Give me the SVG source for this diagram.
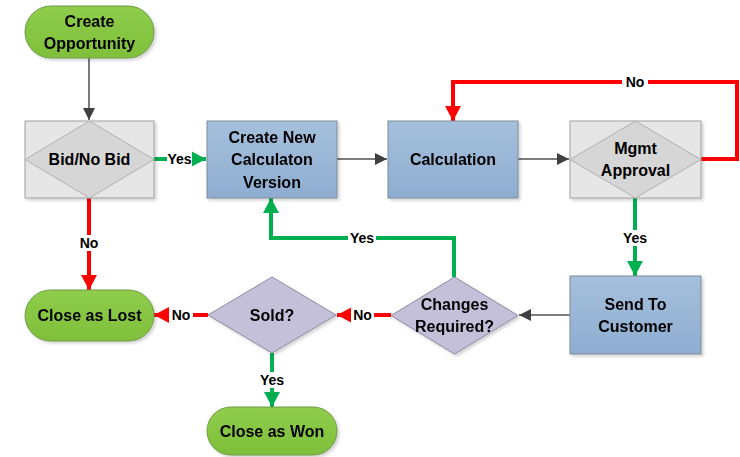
<svg xmlns="http://www.w3.org/2000/svg" width="740" height="457" viewBox="0 0 740 457">
<defs>
<linearGradient id="gGreen" x1="0" y1="0" x2="0" y2="1"><stop offset="0" stop-color="#8fcd4c"/><stop offset="1" stop-color="#7fbf3a"/></linearGradient>
<linearGradient id="gBlue" x1="0" y1="0" x2="0" y2="1"><stop offset="0" stop-color="#a5c0dc"/><stop offset="1" stop-color="#8eadd1"/></linearGradient>
<filter id="sh" x="-10%" y="-10%" width="130%" height="130%"><feDropShadow dx="2" dy="2" stdDeviation="1.5" flood-color="#000" flood-opacity="0.18"/></filter>
<marker id="aGray" markerWidth="12" markerHeight="12" refX="12" refY="6" orient="auto" markerUnits="userSpaceOnUse"><path d="M0,0 L12,6 L0,12 Z" fill="#404040"/></marker>
<marker id="aGreen" markerWidth="15" markerHeight="16" refX="15" refY="8" orient="auto" markerUnits="userSpaceOnUse"><path d="M0,0 L15,8 L0,16 Z" fill="#00b050"/></marker>
<marker id="aRed" markerWidth="15" markerHeight="16" refX="15" refY="8" orient="auto" markerUnits="userSpaceOnUse"><path d="M0,0 L15,8 L0,16 Z" fill="#ff0000"/></marker>
</defs>
<style>
text{font-family:"Liberation Sans",Arial,sans-serif;font-weight:bold;fill:#000;text-anchor:middle;dominant-baseline:central}
.t{font-size:16px}
.l{font-size:14px}
.pill{fill:url(#gGreen);stroke:#6e9a46;stroke-width:1}
.box{fill:url(#gBlue);stroke:#7f8c99;stroke-width:1}
.gbox{fill:#e6e6e6;stroke:#a0a0a0;stroke-width:1}
.gdia{fill:#d6d6d6;stroke:#b0b0b0;stroke-width:1}
.pdia{fill:#c5c0d9;stroke:#8c8aa0;stroke-width:1}
.gray{fill:none;stroke:#505050;stroke-width:1.5;marker-end:url(#aGray)}
.green{fill:none;stroke:#00b050;stroke-width:4}
.red{fill:none;stroke:#ff0000;stroke-width:4}
.lbg{fill:#fff}
</style>
<g id="connectors">
<path class="gray" d="M89,58 V120"/>
<path class="gray" d="M337,159 H387"/>
<path class="gray" d="M518,159 H569"/>
<path class="gray" d="M570,315 H519"/>
<path class="green" d="M154,159 H167"/>
<path class="green" d="M192,159 H206" marker-end="url(#aGreen)"/>
<path class="red" d="M701,159 H737 V82 H453 V121" marker-end="url(#aRed)"/>
<path class="red" d="M89,198 V290" marker-end="url(#aRed)"/>
<path class="green" d="M635,198 V276" marker-end="url(#aGreen)"/>
<path class="green" d="M454,277 V238 H271 V198" marker-end="url(#aGreen)"/>
<path class="red" d="M391,315 H374"/>
<path class="red" d="M351,315 H337" marker-end="url(#aRed)"/>
<path class="red" d="M208,315 H193"/>
<path class="red" d="M169,315 H154" marker-end="url(#aRed)"/>
<path class="green" d="M272,353 V407" marker-end="url(#aGreen)"/>
<rect class="lbg" x="167" y="151" width="25" height="16"/>
<text class="l" x="179.5" y="159">Yes</text>
<rect class="lbg" x="622" y="74" width="26" height="16"/>
<text class="l" x="635" y="82">No</text>
<rect class="lbg" x="77" y="235" width="24" height="16"/>
<text class="l" x="89" y="243">No</text>
<rect class="lbg" x="621" y="230" width="28" height="16"/>
<text class="l" x="635" y="238">Yes</text>
<rect class="lbg" x="348" y="230" width="28" height="16"/>
<text class="l" x="362" y="238">Yes</text>
<rect class="lbg" x="351" y="307" width="23" height="16"/>
<text class="l" x="362.5" y="315">No</text>
<rect class="lbg" x="169" y="307" width="24" height="16"/>
<text class="l" x="181" y="315">No</text>
<rect class="lbg" x="258" y="372" width="28" height="16"/>
<text class="l" x="272" y="380">Yes</text>
</g>
<g id="create-opportunity" filter="url(#sh)">
<rect class="pill" x="25" y="6" width="129" height="52" rx="26"/>
<text class="t" x="89.5" y="21">Create</text>
<text class="t" x="89.5" y="43">Opportunity</text>
</g>
<g id="bid-no-bid">
<rect class="gbox" x="25" y="121" width="129" height="77" filter="url(#sh)"/>
<path class="gdia" d="M89.5,121 L154,159.5 L89.5,198 L25,159.5 Z"/>
<text class="t" x="89.5" y="159.5">Bid/No Bid</text>
</g>
<g id="create-new-calc" filter="url(#sh)">
<rect class="box" x="207" y="121" width="130" height="77"/>
<text class="t" x="272" y="137">Create New</text>
<text class="t" x="272" y="159.5">Calculaton</text>
<text class="t" x="272" y="182">Version</text>
</g>
<g id="calculation" filter="url(#sh)">
<rect class="box" x="388" y="121" width="130" height="77"/>
<text class="t" x="453" y="159.5">Calculation</text>
</g>
<g id="mgmt-approval">
<rect class="gbox" x="570" y="121" width="131" height="77" filter="url(#sh)"/>
<path class="gdia" d="M635.5,121 L701,159.5 L635.5,198 L570,159.5 Z"/>
<text class="t" x="635.5" y="148">Mgmt</text>
<text class="t" x="635.5" y="170">Approval</text>
</g>
<g id="send-to-customer" filter="url(#sh)">
<rect class="box" x="570" y="276" width="131" height="78"/>
<text class="t" x="635.5" y="304">Send To</text>
<text class="t" x="635.5" y="326">Customer</text>
</g>
<g id="changes-required" filter="url(#sh)">
<path class="pdia" d="M454.5,277 L518,315.5 L454.5,354 L391,315.5 Z"/>
<text class="t" x="454.5" y="304">Changes</text>
<text class="t" x="454.5" y="326">Required?</text>
</g>
<g id="sold" filter="url(#sh)">
<path class="pdia" d="M272,277 L336,315 L272,353 L208,315 Z"/>
<text class="t" x="272" y="315">Sold?</text>
</g>
<g id="close-lost" filter="url(#sh)">
<rect class="pill" x="25" y="290" width="129" height="51" rx="25.5"/>
<text class="t" x="89.5" y="315.5">Close as Lost</text>
</g>
<g id="close-won" filter="url(#sh)">
<rect class="pill" x="207" y="407" width="130" height="48" rx="24"/>
<text class="t" x="272" y="431">Close as Won</text>
</g>
</svg>
